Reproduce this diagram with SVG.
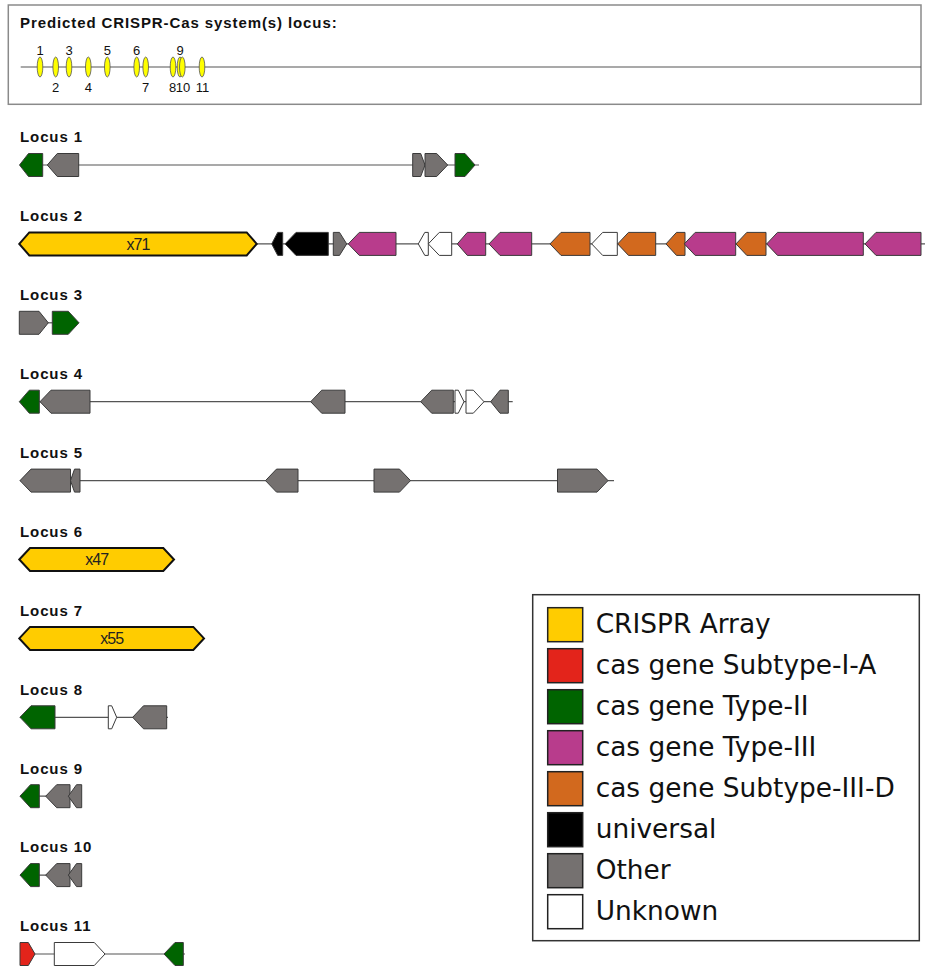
<svg xmlns="http://www.w3.org/2000/svg" width="925" height="967" viewBox="0 0 925 967">
<style>
.lbl{font-family:"Liberation Sans",Arial,sans-serif;font-weight:bold;font-size:15px;letter-spacing:0.9px;fill:#111}
.num{font-family:"Liberation Sans",Arial,sans-serif;font-size:13px;fill:#111;text-anchor:middle}
.arr{font-family:"Liberation Sans",Arial,sans-serif;font-size:16px;letter-spacing:-1px;fill:#222;text-anchor:middle}
.leg{font-family:"DejaVu Sans","Noto Sans",sans-serif;font-size:26.4px;fill:#111}
.bb{stroke:#555;stroke-width:1.2;fill:none}
.g{stroke:#3a3a3a;stroke-width:1}
.cr{fill:#FFCC00;stroke:#111;stroke-width:2}
.y{fill:#FFCC00}.r{fill:#E3241B}.gr{fill:#006400}.m{fill:#B83C8C}.o{fill:#D2691E}.k{fill:#000}.x{fill:#757170}.w{fill:#fff}
.sw{stroke:#222;stroke-width:1.5}
.el{fill:#FFFF00;stroke:#555;stroke-width:0.8}
</style>
<rect x="8.3" y="5" width="912.7" height="99.3" fill="none" stroke="#8a8a8a" stroke-width="1.5"/>
<text class="lbl" x="20" y="28.3">Predicted CRISPR-Cas system(s) locus:</text>
<g id="overview">
<line x1="20.7" y1="67" x2="921" y2="67" stroke="#555" stroke-width="1.2"/>
<ellipse class="el" cx="40" cy="67" rx="2.8" ry="10"/>
<ellipse class="el" cx="55.7" cy="67" rx="2.8" ry="10"/>
<ellipse class="el" cx="69" cy="67" rx="2.8" ry="10"/>
<ellipse class="el" cx="88.3" cy="67" rx="2.8" ry="10"/>
<ellipse class="el" cx="107.3" cy="67" rx="2.8" ry="10"/>
<ellipse class="el" cx="136.7" cy="67" rx="2.8" ry="10"/>
<ellipse class="el" cx="145.7" cy="67" rx="2.8" ry="10"/>
<ellipse class="el" cx="173" cy="67" rx="2.8" ry="10"/>
<ellipse class="el" cx="180" cy="67" rx="2.8" ry="10"/>
<ellipse class="el" cx="182.3" cy="67" rx="2.8" ry="10"/>
<ellipse class="el" cx="202" cy="67" rx="2.8" ry="10"/>
<text class="num" x="40" y="55">1</text>
<text class="num" x="55.7" y="91.7">2</text>
<text class="num" x="69" y="55">3</text>
<text class="num" x="88.3" y="91.7">4</text>
<text class="num" x="107.3" y="55">5</text>
<text class="num" x="136.7" y="55">6</text>
<text class="num" x="145.7" y="91.7">7</text>
<text class="num" x="172.7" y="91.7">8</text>
<text class="num" x="180" y="55">9</text>
<text class="num" x="183" y="91.7">10</text>
<text class="num" x="202.5" y="91.7">11</text>
</g>

<g id="connectors">
<line class="bb" x1="20" y1="165" x2="479" y2="165"/>
<line class="bb" x1="256" y1="243.9" x2="925" y2="243.9"/>
<line class="bb" x1="40" y1="322.8" x2="60" y2="322.8"/>
<line class="bb" x1="20" y1="401.7" x2="512.7" y2="401.7"/>
<line class="bb" x1="20" y1="480.6" x2="614" y2="480.6"/>
<line class="bb" x1="20" y1="717.3" x2="168" y2="717.3"/>
<line class="bb" x1="20" y1="796.2" x2="80" y2="796.2"/>
<line class="bb" x1="20" y1="875.1" x2="80" y2="875.1"/>
<line class="bb" x1="20" y1="954" x2="185" y2="954"/>
</g>

<g id="locus1">
<text class="lbl" x="20" y="142">Locus 1</text>
<g transform="translate(0,165)">
<polygon id="l1g1" class="g gr" points="19.5,0 28.5,-11.5 42.7,-11.5 42.7,11.5 28.5,11.5"/>
<polygon id="l1g2" class="g x" points="47.3,0 57.3,-11.5 78.7,-11.5 78.7,11.5 57.3,11.5"/>
<polygon id="l1g3" class="g x" points="412.7,-11.5 420.7,-11.5 425,0 420.7,11.5 412.7,11.5"/>
<polygon id="l1g4" class="g x" points="425,-11.5 436.7,-11.5 447.7,0 436.7,11.5 425,11.5"/>
<polygon id="l1g5" class="g gr" points="455,-11.5 465,-11.5 475,0 465,11.5 455,11.5"/>
</g>
</g>

<g id="locus2">
<text class="lbl" x="20" y="221">Locus 2</text>
<g transform="translate(0,243.9)">
<polygon id="l2g1" class="cr" points="19.3,0 29.3,-11.5 246.7,-11.5 256.7,0 246.7,11.5 29.3,11.5"/>
<text class="arr" x="138" y="5.6">x71</text>
<polygon id="l2g2" class="g k" points="271.7,0 277.7,-11.5 282.7,-11.5 282.7,11.5 277.7,11.5"/>
<polygon id="l2g3" class="g k" points="285,0 296,-11.5 328.3,-11.5 328.3,11.5 296,11.5"/>
<polygon id="l2g4" class="g x" points="333.3,-11.5 339.5,-11.5 346.7,0 339.5,11.5 333.3,11.5"/>
<polygon id="l2g5" class="g m" points="348.3,0 359.3,-11.5 396,-11.5 396,11.5 359.3,11.5"/>
<polygon id="l2g6" class="g w" points="418.3,0 424.8,-11.5 428.3,-11.5 428.3,11.5 424.8,11.5"/>
<polygon id="l2g7" class="g w" points="428.3,0 439.3,-11.5 451.7,-11.5 451.7,11.5 439.3,11.5"/>
<polygon id="l2g8" class="g m" points="457.3,0 467.3,-11.5 485.7,-11.5 485.7,11.5 467.3,11.5"/>
<polygon id="l2g9" class="g m" points="489,0 500,-11.5 531.7,-11.5 531.7,11.5 500,11.5"/>
<polygon id="l2g10" class="g o" points="550,0 561,-11.5 590,-11.5 590,11.5 561,11.5"/>
<polygon id="l2g11" class="g w" points="591.7,0 602.7,-11.5 617.3,-11.5 617.3,11.5 602.7,11.5"/>
<polygon id="l2g12" class="g o" points="617.7,0 628.5,-11.5 655.7,-11.5 655.7,11.5 628.5,11.5"/>
<polygon id="l2g13" class="g o" points="666,0 676.5,-11.5 685,-11.5 685,11.5 676.5,11.5"/>
<polygon id="l2g14" class="g m" points="684.3,0 695.2,-11.5 735.7,-11.5 735.7,11.5 695.2,11.5"/>
<polygon id="l2g15" class="g o" points="736,0 746.8,-11.5 766,-11.5 766,11.5 746.8,11.5"/>
<polygon id="l2g16" class="g m" points="766.7,0 777.5,-11.5 863.3,-11.5 863.3,11.5 777.5,11.5"/>
<polygon id="l2g17" class="g m" points="865,0 876,-11.5 921,-11.5 921,11.5 876,11.5"/>
</g>
</g>

<g id="locus3">
<text class="lbl" x="20" y="300">Locus 3</text>
<g transform="translate(0,322.8)">
<polygon id="l3g1" class="g x" points="19.3,-11.5 39,-11.5 48.3,0 39,11.5 19.3,11.5"/>
<polygon id="l3g2" class="g gr" points="52.3,-11.5 68.3,-11.5 79,0 68.3,11.5 52.3,11.5"/>
</g>
</g>

<g id="locus4">
<text class="lbl" x="20" y="379">Locus 4</text>
<g transform="translate(0,401.7)">
<polygon id="l4g1" class="g gr" points="19.3,0 29.3,-11.5 39.3,-11.5 39.3,11.5 29.3,11.5"/>
<polygon id="l4g2" class="g x" points="40,0 51,-11.5 90,-11.5 90,11.5 51,11.5"/>
<polygon id="l4g3" class="g x" points="310.7,0 321.7,-11.5 345,-11.5 345,11.5 321.7,11.5"/>
<polygon id="l4g4" class="g x" points="420.7,0 431.7,-11.5 453.3,-11.5 453.3,11.5 431.7,11.5"/>
<polygon id="l4g5" class="g w" points="455,-11.5 458.3,-11.5 464,0 458.3,11.5 455,11.5"/>
<polygon id="l4g6" class="g w" points="466,-11.5 473.3,-11.5 484,0 473.3,11.5 466,11.5"/>
<polygon id="l4g7" class="g x" points="490.7,0 500,-11.5 508.3,-11.5 508.3,11.5 500,11.5"/>
</g>
</g>

<g id="locus5">
<text class="lbl" x="20" y="458">Locus 5</text>
<g transform="translate(0,480.6)">
<polygon id="l5g1" class="g x" points="20,0 31,-11.5 70.5,-11.5 70.5,11.5 31,11.5"/>
<polygon id="l5g2" class="g x" points="70.5,0 74.5,-11.5 80,-11.5 80,11.5 74.5,11.5"/>
<polygon id="l5g3" class="g x" points="265.5,0 276.5,-11.5 298,-11.5 298,11.5 276.5,11.5"/>
<polygon id="l5g4" class="g x" points="374,-11.5 399.5,-11.5 410.5,0 399.5,11.5 374,11.5"/>
<polygon id="l5g5" class="g x" points="557.5,-11.5 597,-11.5 608,0 597,11.5 557.5,11.5"/>
</g>
</g>

<g id="locus6">
<text class="lbl" x="20" y="537">Locus 6</text>
<g transform="translate(0,559.5)">
<polygon id="l6g1" class="cr" points="19.3,0 30,-11.5 163.3,-11.5 174,0 163.3,11.5 30,11.5"/>
<text class="arr" x="96.7" y="5.6">x47</text>
</g>
</g>

<g id="locus7">
<text class="lbl" x="20" y="616">Locus 7</text>
<g transform="translate(0,638.4)">
<polygon id="l7g1" class="cr" points="19.3,0 30,-11.5 193.3,-11.5 204,0 193.3,11.5 30,11.5"/>
<text class="arr" x="111.7" y="5.6">x55</text>
</g>
</g>

<g id="locus8">
<text class="lbl" x="20" y="694.5">Locus 8</text>
<g transform="translate(0,717.3)">
<polygon id="l8g1" class="g gr" points="20,0 31,-11.5 55,-11.5 55,11.5 31,11.5"/>
<polygon id="l8g2" class="g w" points="108.3,-11.5 111.7,-11.5 116.7,0 111.7,11.5 108.3,11.5"/>
<polygon id="l8g3" class="g x" points="132.7,0 143.5,-11.5 166.7,-11.5 166.7,11.5 143.5,11.5"/>
</g>
</g>

<g id="locus9">
<text class="lbl" x="20" y="773.5">Locus 9</text>
<g transform="translate(0,796.2)">
<polygon id="l9g1" class="g gr" points="20,0 30.5,-11.5 39.3,-11.5 39.3,11.5 30.5,11.5"/>
<polygon id="l9g2" class="g x" points="45.7,0 56.7,-11.5 70,-11.5 70,11.5 56.7,11.5"/>
<polygon id="l9g3" class="g x" points="68.3,0 76.5,-11.5 81.7,-11.5 81.7,11.5 76.5,11.5"/>
</g>
</g>

<g id="locus10">
<text class="lbl" x="20" y="852">Locus 10</text>
<g transform="translate(0,875.1)">
<polygon id="l10g1" class="g gr" points="20,0 30.5,-11.5 39.3,-11.5 39.3,11.5 30.5,11.5"/>
<polygon id="l10g2" class="g x" points="45.7,0 56.7,-11.5 70,-11.5 70,11.5 56.7,11.5"/>
<polygon id="l10g3" class="g x" points="68.3,0 76.5,-11.5 81.7,-11.5 81.7,11.5 76.5,11.5"/>
</g>
</g>

<g id="locus11">
<text class="lbl" x="20" y="931">Locus 11</text>
<g transform="translate(0,954)">
<polygon id="l11g1" class="g r" points="20,-11.5 28.3,-11.5 35,0 28.3,11.5 20,11.5"/>
<polygon id="l11g2" class="g w" points="54.3,-11.5 94.3,-11.5 105,0 94.3,11.5 54.3,11.5"/>
<polygon id="l11g3" class="g gr" points="164,0 175,-11.5 183.3,-11.5 183.3,11.5 175,11.5"/>
</g>
</g>

<g id="legend">
<rect x="532.7" y="594.7" width="386.6" height="346" fill="#fff" stroke="#333" stroke-width="1.5"/>
<rect class="sw y" x="547.7" y="607.7" width="35" height="34"/>
<rect class="sw r" x="547.7" y="648.7" width="35" height="34"/>
<rect class="sw gr" x="547.7" y="689.7" width="35" height="34"/>
<rect class="sw m" x="547.7" y="730.7" width="35" height="34"/>
<rect class="sw o" x="547.7" y="771.7" width="35" height="34"/>
<rect class="sw k" x="547.7" y="812.7" width="35" height="34"/>
<rect class="sw x" x="547.7" y="853.7" width="35" height="34"/>
<rect class="sw w" x="547.7" y="894.7" width="35" height="34"/>
<text class="leg" x="595.7" y="632.7">CRISPR Array</text>
<text class="leg" x="595.7" y="673.7">cas gene Subtype-I-A</text>
<text class="leg" x="595.7" y="714.7">cas gene Type-II</text>
<text class="leg" x="595.7" y="755.7">cas gene Type-III</text>
<text class="leg" x="595.7" y="796.7">cas gene Subtype-III-D</text>
<text class="leg" x="595.7" y="837.7">universal</text>
<text class="leg" x="595.7" y="878.7">Other</text>
<text class="leg" x="595.7" y="919.7">Unknown</text>
</g>
</svg>
